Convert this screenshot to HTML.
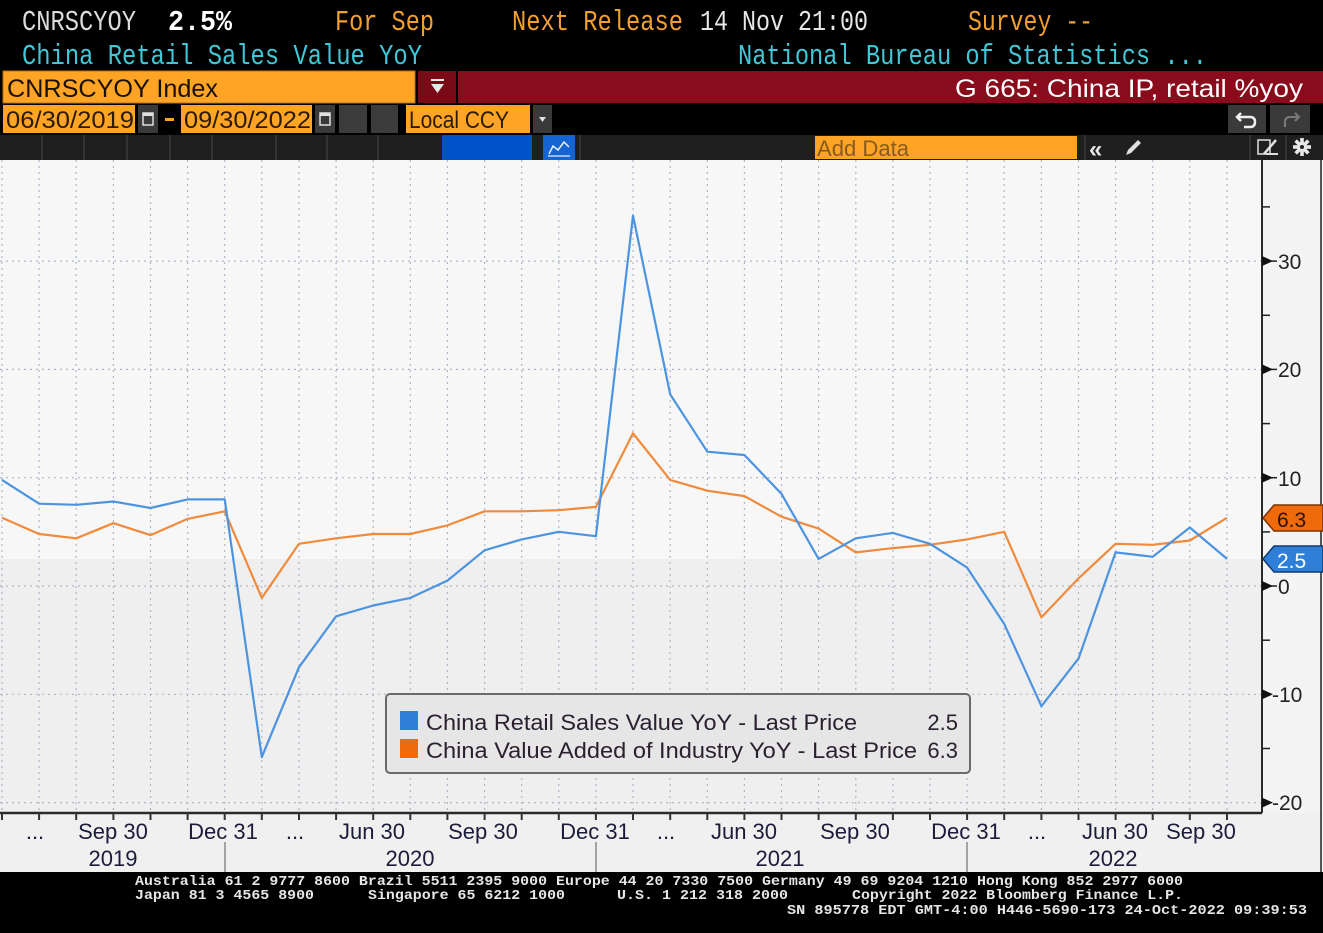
<!DOCTYPE html>
<html><head><meta charset="utf-8"><style>
html,body{margin:0;padding:0;background:#000;}
svg{display:block;}
.mono{font-family:"Liberation Mono",monospace;}
.sans{font-family:"Liberation Sans",sans-serif;}
</style></head><body>
<svg width="1323" height="933" viewBox="0 0 1323 933" xmlns="http://www.w3.org/2000/svg">
<rect x="0" y="0" width="1323" height="933" fill="#000"/>

<!-- Row 1 -->
<g class="mono" font-size="26" transform="translate(0,30) scale(1,1.12) translate(0,-30)">
<text x="22" y="30" fill="#dcdcdc" textLength="114" lengthAdjust="spacingAndGlyphs">CNRSCYOY</text>
<text x="168" y="30" fill="#ffffff" font-weight="bold" textLength="64" lengthAdjust="spacingAndGlyphs">2.5%</text>
<text x="335" y="30" fill="#f0a030" textLength="99" lengthAdjust="spacingAndGlyphs">For Sep</text>
<text x="512" y="30" fill="#f0a030" textLength="171" lengthAdjust="spacingAndGlyphs">Next Release</text>
<text x="700" y="30" fill="#e6e6e6" textLength="168" lengthAdjust="spacingAndGlyphs">14 Nov 21:00</text>
<text x="968" y="30" fill="#f0a030" textLength="125" lengthAdjust="spacingAndGlyphs">Survey --</text>
</g>
<!-- Row 2 -->
<g class="mono" font-size="26" transform="translate(0,64) scale(1,1.12) translate(0,-64)">
<text x="22" y="64" fill="#40c8d8" textLength="400" lengthAdjust="spacingAndGlyphs">China Retail Sales Value YoY</text>
<text x="738" y="64" fill="#40c8d8" textLength="469" lengthAdjust="spacingAndGlyphs">National Bureau of Statistics ...</text>
</g>

<!-- Row 3 -->
<rect x="3" y="71" width="412" height="32" fill="#ffa424" stroke="#b87410" stroke-width="1"/>
<text x="7" y="97" class="sans" font-size="25" fill="#1a1000" textLength="211" lengthAdjust="spacingAndGlyphs">CNRSCYOY Index</text>
<rect x="418" y="71" width="38" height="32" fill="#7a0a16"/>
<rect x="431" y="79" width="13" height="2" fill="#e8e8e8"/>
<polygon points="431,84 444,84 437.5,93" fill="#e8e8e8"/>
<rect x="458" y="71" width="865" height="32" fill="#8a0b1c"/>
<text x="1303" y="97" text-anchor="end" class="sans" font-size="25" fill="#ffffff" textLength="348" lengthAdjust="spacingAndGlyphs">G 665: China IP, retail %yoy</text>

<!-- Row 4 -->
<g class="sans" font-size="24" fill="#2a1a00">
<rect x="3" y="105" width="132" height="28" fill="#ffa424"/>
<text x="6" y="128" textLength="128" lengthAdjust="spacingAndGlyphs">06/30/2019</text>
<rect x="138" y="105" width="20" height="28" fill="#3a3a3a"/>
<rect x="143" y="113" width="10" height="12" fill="none" stroke="#e0e0e0" stroke-width="1.5"/>
<rect x="143" y="113" width="10" height="3" fill="#e0e0e0"/>
<rect x="162" y="105" width="16" height="28" fill="#000"/>
<rect x="165" y="118" width="9" height="3" fill="#ffa424"/>
<rect x="181" y="105" width="131" height="28" fill="#ffa424"/>
<text x="184" y="128" textLength="127" lengthAdjust="spacingAndGlyphs">09/30/2022</text>
<rect x="315" y="105" width="20" height="28" fill="#3a3a3a"/>
<rect x="320" y="113" width="10" height="12" fill="none" stroke="#e0e0e0" stroke-width="1.5"/>
<rect x="320" y="113" width="10" height="3" fill="#e0e0e0"/>
<rect x="339" y="105" width="28" height="28" fill="#3c3c3c"/>
<rect x="371" y="105" width="27" height="28" fill="#3c3c3c"/>
<rect x="406" y="105" width="124" height="28" fill="#ffa424"/>
<text x="409" y="128" textLength="100" lengthAdjust="spacingAndGlyphs">Local CCY</text>
<rect x="533" y="105" width="19" height="28" fill="#3a3a3a"/>
<polygon points="539,117 546,117 542.5,122" fill="#e0e0e0"/>
</g>
<rect x="1228" y="105" width="38" height="28" fill="#3a3a3a"/>
<path d="M1241,113 L1237,117 L1241,121 M1237,117 L1250,117 Q1255,117 1255,122 Q1255,127 1250,127 L1244,127" fill="none" stroke="#f0f0f0" stroke-width="2.5"/>
<rect x="1270" y="105" width="40" height="28" fill="#3a3a3a"/>
<path d="M1295,113 L1299,117 L1295,121 M1299,117 L1290,117 Q1285,117 1285,122 L1285,127" fill="none" stroke="#7a7a7a" stroke-width="2"/>

<!-- Row 5 -->
<rect x="0" y="135" width="1323" height="25" fill="#1f1f1f"/>
<g stroke="#333" stroke-width="2">
<line x1="42" y1="135" x2="42" y2="160"/><line x1="84" y1="135" x2="84" y2="160"/>
<line x1="127" y1="135" x2="127" y2="160"/><line x1="170" y1="135" x2="170" y2="160"/>
<line x1="212" y1="135" x2="212" y2="160"/><line x1="276" y1="135" x2="276" y2="160"/>
<line x1="327" y1="135" x2="327" y2="160"/><line x1="378" y1="135" x2="378" y2="160"/>
<line x1="580" y1="135" x2="580" y2="160"/><line x1="1085" y1="135" x2="1085" y2="160"/>
<line x1="1250" y1="135" x2="1250" y2="160"/><line x1="1286" y1="135" x2="1286" y2="160"/>
</g>
<rect x="442" y="135" width="90" height="25" fill="#0052c8"/>
<rect x="543" y="135" width="32" height="25" fill="#1464d4"/>
<polyline points="549,154 553,146 558,150 564,142 569,147" fill="none" stroke="#e8f0ff" stroke-width="1.5"/>
<line x1="548" y1="156" x2="570" y2="156" stroke="#e8f0ff" stroke-width="1.2"/>
<rect x="815" y="136" width="262" height="23" fill="#ffa424"/>
<text x="817" y="156" class="sans" font-size="22" fill="#8a5a1a" textLength="92" lengthAdjust="spacingAndGlyphs">Add Data</text>
<text x="1089" y="157" class="sans" font-size="24" fill="#e8e8e8" font-weight="bold">«</text>
<path d="M1126,155 L1128,150 L1138,140 L1141,143 L1131,153 Z" fill="#e0e0e0"/>
<rect x="1258" y="140" width="12" height="14" fill="none" stroke="#e0e0e0" stroke-width="1.5"/>
<path d="M1264,154 L1276,140" stroke="#e0e0e0" stroke-width="2.5"/>
<line x1="1266" y1="154" x2="1278" y2="154" stroke="#e0e0e0" stroke-width="2"/>
<g transform="translate(1302,147)" fill="#e8e8e8">
<circle r="5"/>
<rect x="-1.8" y="-9" width="3.6" height="18"/>
<rect x="-1.8" y="-9" width="3.6" height="18" transform="rotate(45)"/>
<rect x="-1.8" y="-9" width="3.6" height="18" transform="rotate(90)"/>
<rect x="-1.8" y="-9" width="3.6" height="18" transform="rotate(135)"/>
<circle r="2" fill="#1f1f1f"/>
</g>

<!-- Chart area background -->
<rect x="0" y="160" width="1323" height="712" fill="#f4f4f4"/>
<rect x="0" y="160" width="1262" height="399" fill="#f7f7f7"/>
<rect x="0" y="559" width="1262" height="254" fill="#efefef"/>
<rect x="0" y="813" width="1323" height="59" fill="#f0f0f0"/>
<line x1="1321" y1="160" x2="1321" y2="872" stroke="#555" stroke-width="2"/>

<!-- grid -->
<g stroke="#aeb6c8" stroke-width="1.2" stroke-dasharray="2,4" fill="none">
<line x1="0" y1="261.1" x2="1262" y2="261.1"/>
<line x1="0" y1="369.4" x2="1262" y2="369.4"/>
<line x1="0" y1="477.7" x2="1262" y2="477.7"/>
<line x1="0" y1="586" x2="1262" y2="586"/>
<line x1="0" y1="694.3" x2="1262" y2="694.3"/>
<line x1="0" y1="802.6" x2="1262" y2="802.6"/>
<line x1="2" y1="160" x2="2" y2="813"/>
<line x1="39.1" y1="160" x2="39.1" y2="813"/>
<line x1="76.2" y1="160" x2="76.2" y2="813"/>
<line x1="113.4" y1="160" x2="113.4" y2="813"/>
<line x1="150.5" y1="160" x2="150.5" y2="813"/>
<line x1="187.6" y1="160" x2="187.6" y2="813"/>
<line x1="224.7" y1="160" x2="224.7" y2="813"/>
<line x1="261.8" y1="160" x2="261.8" y2="813"/>
<line x1="299" y1="160" x2="299" y2="813"/>
<line x1="336.1" y1="160" x2="336.1" y2="813"/>
<line x1="373.2" y1="160" x2="373.2" y2="813"/>
<line x1="410.3" y1="160" x2="410.3" y2="813"/>
<line x1="447.4" y1="160" x2="447.4" y2="813"/>
<line x1="484.6" y1="160" x2="484.6" y2="813"/>
<line x1="521.7" y1="160" x2="521.7" y2="813"/>
<line x1="558.8" y1="160" x2="558.8" y2="813"/>
<line x1="595.9" y1="160" x2="595.9" y2="813"/>
<line x1="633" y1="160" x2="633" y2="813"/>
<line x1="670.2" y1="160" x2="670.2" y2="813"/>
<line x1="707.3" y1="160" x2="707.3" y2="813"/>
<line x1="744.4" y1="160" x2="744.4" y2="813"/>
<line x1="781.5" y1="160" x2="781.5" y2="813"/>
<line x1="818.6" y1="160" x2="818.6" y2="813"/>
<line x1="855.8" y1="160" x2="855.8" y2="813"/>
<line x1="892.9" y1="160" x2="892.9" y2="813"/>
<line x1="930" y1="160" x2="930" y2="813"/>
<line x1="967.1" y1="160" x2="967.1" y2="813"/>
<line x1="1004.2" y1="160" x2="1004.2" y2="813"/>
<line x1="1041.4" y1="160" x2="1041.4" y2="813"/>
<line x1="1078.5" y1="160" x2="1078.5" y2="813"/>
<line x1="1115.6" y1="160" x2="1115.6" y2="813"/>
<line x1="1152.7" y1="160" x2="1152.7" y2="813"/>
<line x1="1189.8" y1="160" x2="1189.8" y2="813"/>
<line x1="1227" y1="160" x2="1227" y2="813"/>
</g>

<!-- series -->
<polyline fill="none" stroke="#f08a3c" stroke-width="2.2" stroke-linejoin="round" points="2,517.8 39.1,534 76.2,538.3 113.4,523.2 150.5,535.1 187.6,518.9 224.7,511.3 261.8,597.9 299,543.8 336.1,538.3 373.2,534 410.3,534 447.4,525.4 484.6,511.3 521.7,511.3 558.8,510.2 595.9,506.9 633,433.3 670.2,479.9 707.3,490.7 744.4,496.1 781.5,516.7 818.6,528.6 855.8,552.4 892.9,548.1 930,544.8 967.1,539.4 1004.2,531.8 1041.4,617.4 1078.5,578.4 1115.6,543.8 1152.7,544.8 1189.8,540.5 1227,517.8"/>
<polyline fill="none" stroke="#4d94e0" stroke-width="2.2" stroke-linejoin="round" points="2,479.9 39.1,503.7 76.2,504.8 113.4,501.5 150.5,508 187.6,499.4 224.7,499.4 261.8,757.1 299,667.2 336.1,616.3 373.2,605.5 410.3,597.9 447.4,580.6 484.6,550.3 521.7,539.4 558.8,531.8 595.9,536.2 633,215.6 670.2,394.3 707.3,451.7 744.4,455 781.5,493.9 818.6,558.9 855.8,538.3 892.9,532.9 930,543.8 967.1,567.6 1004.2,623.9 1041.4,706.2 1078.5,658.6 1115.6,552.4 1152.7,556.8 1189.8,527.5 1227,558.9"/>

<!-- legend -->
<rect x="386" y="694" width="584" height="79" rx="4" fill="#e6e6e6" stroke="#6a6a6a" stroke-width="2"/>
<rect x="400" y="711" width="18" height="19" fill="#2f7fd8"/>
<rect x="400" y="739" width="18" height="19" fill="#ee6a0a"/>
<g class="sans" font-size="22" fill="#2a2030">
<text x="426" y="730" textLength="431" lengthAdjust="spacingAndGlyphs">China Retail Sales Value YoY - Last Price</text>
<text x="426" y="758" textLength="491" lengthAdjust="spacingAndGlyphs">China Value Added of Industry YoY - Last Price</text>
<text x="958" y="730" text-anchor="end">2.5</text>
<text x="958" y="758" text-anchor="end">6.3</text>
</g>

<!-- right axis -->
<line x1="1262" y1="160" x2="1262" y2="813" stroke="#2a2a2a" stroke-width="2"/>
<g stroke="#222" stroke-width="1.5">
<line x1="1262" y1="206.9" x2="1270" y2="206.9"/>
<line x1="1262" y1="315.3" x2="1270" y2="315.3"/>
<line x1="1262" y1="423.6" x2="1270" y2="423.6"/>
<line x1="1262" y1="531.9" x2="1270" y2="531.9"/>
<line x1="1262" y1="640.2" x2="1270" y2="640.2"/>
<line x1="1262" y1="748.5" x2="1270" y2="748.5"/>
<line x1="1262" y1="261.1" x2="1277" y2="261.1"/>
<line x1="1262" y1="369.4" x2="1277" y2="369.4"/>
<line x1="1262" y1="477.7" x2="1277" y2="477.7"/>
<line x1="1262" y1="586" x2="1277" y2="586"/>
<line x1="1262" y1="694.3" x2="1271" y2="694.3"/>
<line x1="1262" y1="802.6" x2="1271" y2="802.6"/>
</g>
<g fill="#111">
<polygon points="1262,256 1273,261.1 1262,266"/>
<polygon points="1262,364.4 1273,369.4 1262,374.4"/>
<polygon points="1262,472.7 1273,477.7 1262,482.7"/>
<polygon points="1262,581 1273,586 1262,591"/>
<polygon points="1262,689.3 1273,694.3 1262,699.3"/>
<polygon points="1262,797.6 1273,802.6 1262,807.6"/>
</g>
<g class="sans" font-size="21" fill="#222">
<text x="1278" y="269">30</text>
<text x="1278" y="377">20</text>
<text x="1278" y="486">10</text>
<text x="1278" y="594">0</text>
<text x="1272" y="702">-10</text>
<text x="1272" y="810">-20</text>
</g>
<!-- value tags -->
<polygon points="1263,518 1274,505 1323,505 1323,531 1274,531" fill="#ee6a0a" stroke="#7a3400" stroke-width="1.5"/>
<text x="1277" y="527" class="sans" font-size="21" fill="#2a1400">6.3</text>
<polygon points="1263,559 1274,546 1323,546 1323,572 1274,572" fill="#2f7fd8" stroke="#123a70" stroke-width="1.5"/>
<text x="1277" y="568" class="sans" font-size="21" fill="#ffffff">2.5</text>

<!-- x axis -->
<line x1="0" y1="813" x2="1262" y2="813" stroke="#2a2a2a" stroke-width="2.5"/>
<g stroke="#333" stroke-width="2">
<line x1="2" y1="813" x2="2" y2="820"/><line x1="39.1" y1="813" x2="39.1" y2="820"/><line x1="76.2" y1="813" x2="76.2" y2="820"/><line x1="113.4" y1="813" x2="113.4" y2="820"/><line x1="150.5" y1="813" x2="150.5" y2="820"/><line x1="187.6" y1="813" x2="187.6" y2="820"/><line x1="224.7" y1="813" x2="224.7" y2="820"/><line x1="261.8" y1="813" x2="261.8" y2="820"/><line x1="299" y1="813" x2="299" y2="820"/><line x1="336.1" y1="813" x2="336.1" y2="820"/><line x1="373.2" y1="813" x2="373.2" y2="820"/><line x1="410.3" y1="813" x2="410.3" y2="820"/><line x1="447.4" y1="813" x2="447.4" y2="820"/><line x1="484.6" y1="813" x2="484.6" y2="820"/><line x1="521.7" y1="813" x2="521.7" y2="820"/><line x1="558.8" y1="813" x2="558.8" y2="820"/><line x1="595.9" y1="813" x2="595.9" y2="820"/><line x1="633" y1="813" x2="633" y2="820"/><line x1="670.2" y1="813" x2="670.2" y2="820"/><line x1="707.3" y1="813" x2="707.3" y2="820"/><line x1="744.4" y1="813" x2="744.4" y2="820"/><line x1="781.5" y1="813" x2="781.5" y2="820"/><line x1="818.6" y1="813" x2="818.6" y2="820"/><line x1="855.8" y1="813" x2="855.8" y2="820"/><line x1="892.9" y1="813" x2="892.9" y2="820"/><line x1="930" y1="813" x2="930" y2="820"/><line x1="967.1" y1="813" x2="967.1" y2="820"/><line x1="1004.2" y1="813" x2="1004.2" y2="820"/><line x1="1041.4" y1="813" x2="1041.4" y2="820"/><line x1="1078.5" y1="813" x2="1078.5" y2="820"/><line x1="1115.6" y1="813" x2="1115.6" y2="820"/><line x1="1152.7" y1="813" x2="1152.7" y2="820"/><line x1="1189.8" y1="813" x2="1189.8" y2="820"/><line x1="1227" y1="813" x2="1227" y2="820"/>
</g>
<g stroke="#8a8a8a" stroke-width="1.5">
<line x1="225" y1="842" x2="225" y2="872"/>
<line x1="596" y1="842" x2="596" y2="872"/>
<line x1="967" y1="842" x2="967" y2="872"/>
</g>
<g class="sans" font-size="22" fill="#1c1c3a" text-anchor="middle">
<text x="35" y="839">...</text>
<text x="113" y="839">Sep 30</text>
<text x="223" y="839">Dec 31</text>
<text x="295" y="839">...</text>
<text x="372" y="839">Jun 30</text>
<text x="483" y="839">Sep 30</text>
<text x="595" y="839">Dec 31</text>
<text x="666" y="839">...</text>
<text x="744" y="839">Jun 30</text>
<text x="855" y="839">Sep 30</text>
<text x="966" y="839">Dec 31</text>
<text x="1037" y="839">...</text>
<text x="1115" y="839">Jun 30</text>
<text x="1201" y="839">Sep 30</text>
<text x="113" y="866">2019</text>
<text x="410" y="866">2020</text>
<text x="780" y="866">2021</text>
<text x="1113" y="866">2022</text>
</g>

<!-- footer -->
<rect x="0" y="872" width="1323" height="61" fill="#000"/>
<g class="mono" font-size="14" font-weight="bold" fill="#e6e6e6">
<text x="135" y="885" textLength="1048" lengthAdjust="spacingAndGlyphs">Australia 61 2 9777 8600 Brazil 5511 2395 9000 Europe 44 20 7330 7500 Germany 49 69 9204 1210 Hong Kong 852 2977 6000</text>
<text x="135" y="899" textLength="179" lengthAdjust="spacingAndGlyphs">Japan 81 3 4565 8900</text>
<text x="368" y="899" textLength="197" lengthAdjust="spacingAndGlyphs">Singapore 65 6212 1000</text>
<text x="617" y="899" textLength="171" lengthAdjust="spacingAndGlyphs">U.S. 1 212 318 2000</text>
<text x="852" y="899" textLength="331" lengthAdjust="spacingAndGlyphs">Copyright 2022 Bloomberg Finance L.P.</text>
<text x="787" y="914" textLength="520" lengthAdjust="spacingAndGlyphs">SN 895778 EDT  GMT-4:00 H446-5690-173 24-Oct-2022 09:39:53</text>
</g>
</svg>
</body></html>
